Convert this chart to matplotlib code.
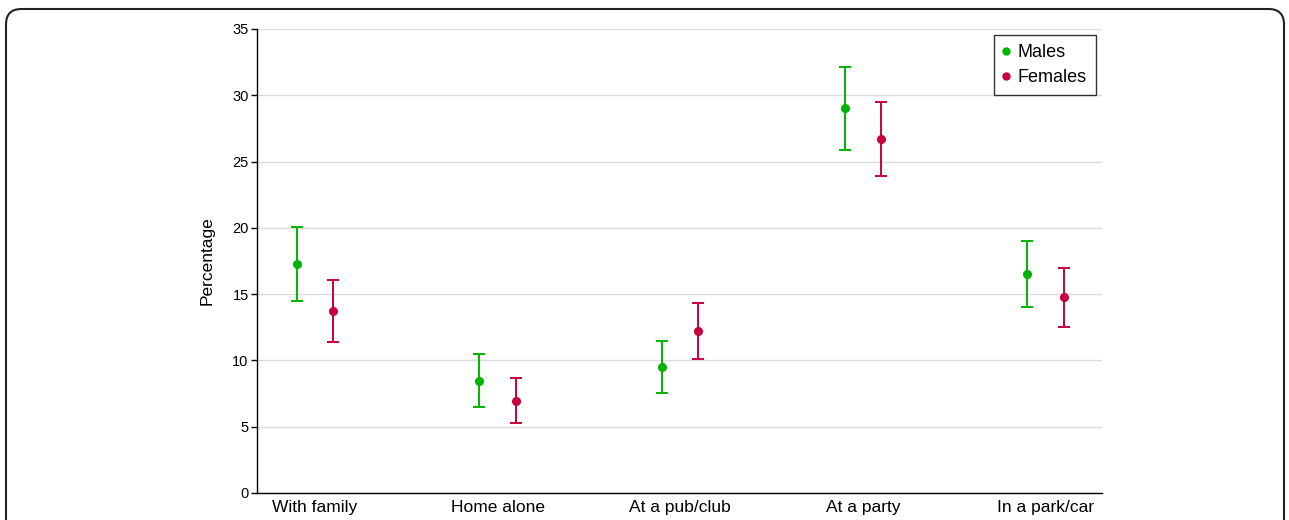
import numpy as np
import matplotlib
matplotlib.use("Agg")
import matplotlib.pyplot as plt
from matplotlib.patches import FancyBboxPatch
from matplotlib.lines import Line2D

plt.rcParams['font.family'] = ['Liberation Sans', 'DejaVu Sans']

# data
categories = ['With family', 'Home alone', 'At a pub/club', 'At a party', 'In a park/car']
males = [17.3, 8.45, 9.5, 29.05, 16.5]
males_lo = [14.5, 6.45, 7.55, 25.9, 14.0]
males_hi = [20.1, 10.45, 11.5, 32.15, 19.0]
females = [13.75, 6.95, 12.2, 26.7, 14.75]
females_lo = [11.4, 5.25, 10.1, 23.9, 12.55]
females_hi = [16.1, 8.7, 14.3, 29.5, 17.0]

green = '#00b400'
red = '#c8003c'

fig = plt.figure(figsize=(12.89, 5.2), dpi=100)

# rounded outer frame (runs past the bottom edge)
frame = FancyBboxPatch((6 / 1289, -0.2), 1278 / 1289, 1.2 - 9 / 520,
                       boxstyle='round,pad=0,rounding_size=0.012',
                       transform=fig.transFigure, fill=False,
                       edgecolor='#222222', linewidth=1.5, mutation_aspect=1289 / 520)
fig.patches.append(frame)

ax = fig.add_axes([257 / 1289, 1 - 493 / 520, 845 / 1289, 464 / 520])

x = np.arange(len(categories))
off = 0.1


def draw(xs, y, lo, hi, col):
    y = np.array(y)
    err = [y - np.array(lo), np.array(hi) - y]
    ax.errorbar(xs, y, yerr=err, fmt='o', color=col, ecolor=col, elinewidth=1.4,
                capsize=4.5, capthick=1.4, markersize=5.5, zorder=3)


draw(x - off, males, males_lo, males_hi, green)
draw(x + off, females, females_lo, females_hi, red)

ax.set_xlim(-0.317, 4.31)
ax.set_ylim(0, 35)
ax.set_yticks(range(0, 36, 5))
ax.set_xticks(x)
ax.set_xticklabels(categories, fontsize=12.5)
ax.tick_params(axis='x', length=0, pad=5)
ax.tick_params(axis='y', length=4, width=1, labelsize=10.5, pad=2)
ax.yaxis.grid(True, color='#dcdcdc', linewidth=1)
ax.set_axisbelow(True)
for s in ['top', 'right']:
    ax.spines[s].set_visible(False)
ax.spines['left'].set_linewidth(1)
ax.spines['bottom'].set_linewidth(1)
ax.set_ylabel('Percentage', fontsize=12.5, labelpad=13)

handles = [Line2D([], [], marker='o', linestyle='none', color=green, markersize=5),
           Line2D([], [], marker='o', linestyle='none', color=red, markersize=5)]
leg = ax.legend(handles, ['Males', 'Females'], loc='upper right',
                bbox_to_anchor=(0.993, 0.987), borderaxespad=0, fontsize=13,
                frameon=True, fancybox=False, edgecolor='black', handletextpad=0.5,
                handlelength=0.35, borderpad=0.5, labelspacing=0.45)
leg.get_frame().set_linewidth(1)

fig.savefig('out.png', dpi=100)
